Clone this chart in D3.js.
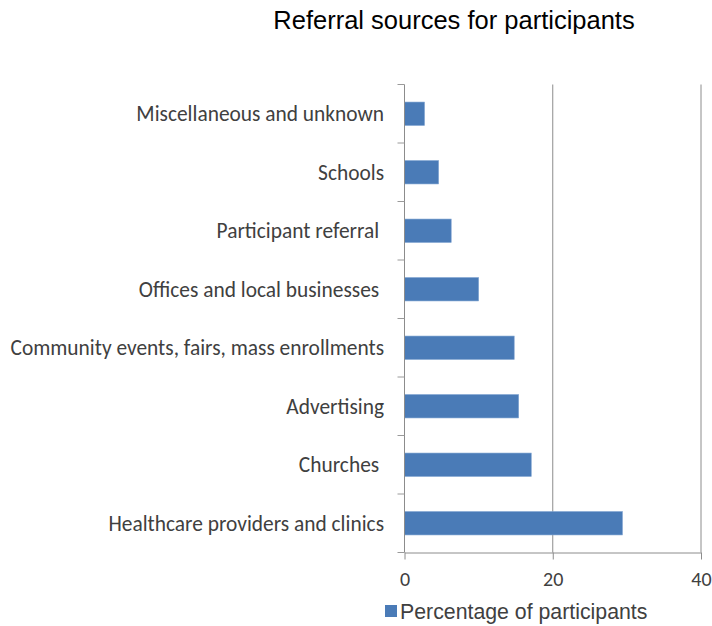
<!DOCTYPE html>
<html>
<head>
<meta charset="utf-8">
<script src="https://cdn.jsdelivr.net/npm/d3@7"></script>
<style>
  html, body { margin: 0; padding: 0; background: #fff; }
  svg text { white-space: pre; }
</style>
</head>
<body>
<svg id="chart" width="712" height="626"></svg>
<script>
// Referral sources, listed bottom-to-top as drawn
const categories = [
  "Healthcare providers and clinics",
  "Churches ",
  "Advertising",
  "Community events, fairs, mass enrollments",
  "Offices and local businesses ",
  "Participant referral ",
  "Schools",
  "Miscellaneous and unknown"
];
const percentages = [29.4, 17.1, 15.4, 14.8, 10.0, 6.3, 4.6, 2.7];
const xTicks = [0, 20, 40];
const seriesName = "Percentage of participants";
const chartTitle = "Referral sources for participants";

const svg = d3.select("#chart");
const plot = { left: 404.5, right: 701, top: 84.5, bottom: 552.5 };

const x = d3.scaleLinear().domain([0, 40]).range([plot.left, plot.right]);
const order = categories.slice().reverse();
const y = d3.scaleBand().domain(order).range([plot.top, plot.bottom]).paddingInner(0.6).paddingOuter(0.3);
const band = d3.scaleBand().domain(order).range([plot.top, plot.bottom]);

const labelFont = "Carlito, Lato, 'Open Sans', sans-serif";
const sansFont = "'Liberation Sans', Arial, sans-serif";

// title
svg.append("text")
  .attr("x", 454).attr("y", 29)
  .attr("text-anchor", "middle")
  .attr("font-family", sansFont)
  .attr("font-size", 25.5)
  .attr("fill", "#000")
  .text(chartTitle);

// vertical gridlines
svg.append("g").selectAll("line")
  .data(xTicks.filter(d => d > 0))
  .join("line")
  .attr("x1", d => x(d)).attr("x2", d => x(d))
  .attr("y1", plot.top).attr("y2", plot.bottom)
  .attr("stroke", "#8c8c8c").attr("stroke-width", 1);

// bars
svg.append("g").selectAll("rect")
  .data(categories.map((c, i) => ({ c, v: percentages[i] })))
  .join("rect")
  .attr("x", x(0))
  .attr("y", d => y(d.c))
  .attr("width", d => x(d.v) - x(0))
  .attr("height", y.bandwidth())
  .attr("fill", "#4a7bb7")
  .attr("stroke", "#7fa3d1").attr("stroke-width", 0.6);

// x axis
const xAxis = d3.axisBottom(x).tickValues(xTicks).tickSize(7).tickPadding(12).tickSizeOuter(0);
const gx = svg.append("g").attr("transform", `translate(0,${plot.bottom})`).call(xAxis);
gx.select(".domain").attr("stroke", "#8c8c8c");
gx.selectAll(".tick line").attr("stroke", "#8c8c8c");
gx.selectAll(".tick text")
  .attr("font-family", labelFont).attr("font-size", 20).attr("fill", "#404040");

// y axis with ticks at band boundaries
svg.append("line")
  .attr("x1", plot.left).attr("x2", plot.left).attr("y1", plot.top).attr("y2", plot.bottom)
  .attr("stroke", "#8c8c8c");
const boundaries = order.map(d => band(d)).concat([plot.bottom]);
svg.append("g").selectAll("line")
  .data(boundaries)
  .join("line")
  .attr("x1", plot.left - 7).attr("x2", plot.left)
  .attr("y1", d => d).attr("y2", d => d)
  .attr("stroke", "#9a9a9a");

// category labels
svg.append("g").selectAll("text")
  .data(categories)
  .join("text")
  .attr("x", 384)
  .attr("y", d => band(d) + band.bandwidth() / 2)
  .attr("dy", "0.35em")
  .attr("text-anchor", "end")
  .attr("font-family", labelFont)
  .attr("font-size", 21.4)
  .attr("fill", "#404040")
  .text(d => d);

// legend
const lg = svg.append("g");
lg.append("rect")
  .attr("x", 385).attr("y", 605).attr("width", 12).attr("height", 12)
  .attr("fill", "#4a7bb7");
lg.append("text")
  .attr("x", 400).attr("y", 619)
  .attr("font-family", sansFont)
  .attr("font-size", 21.3)
  .attr("fill", "#404040")
  .text(seriesName);
</script>
</body>
</html>
